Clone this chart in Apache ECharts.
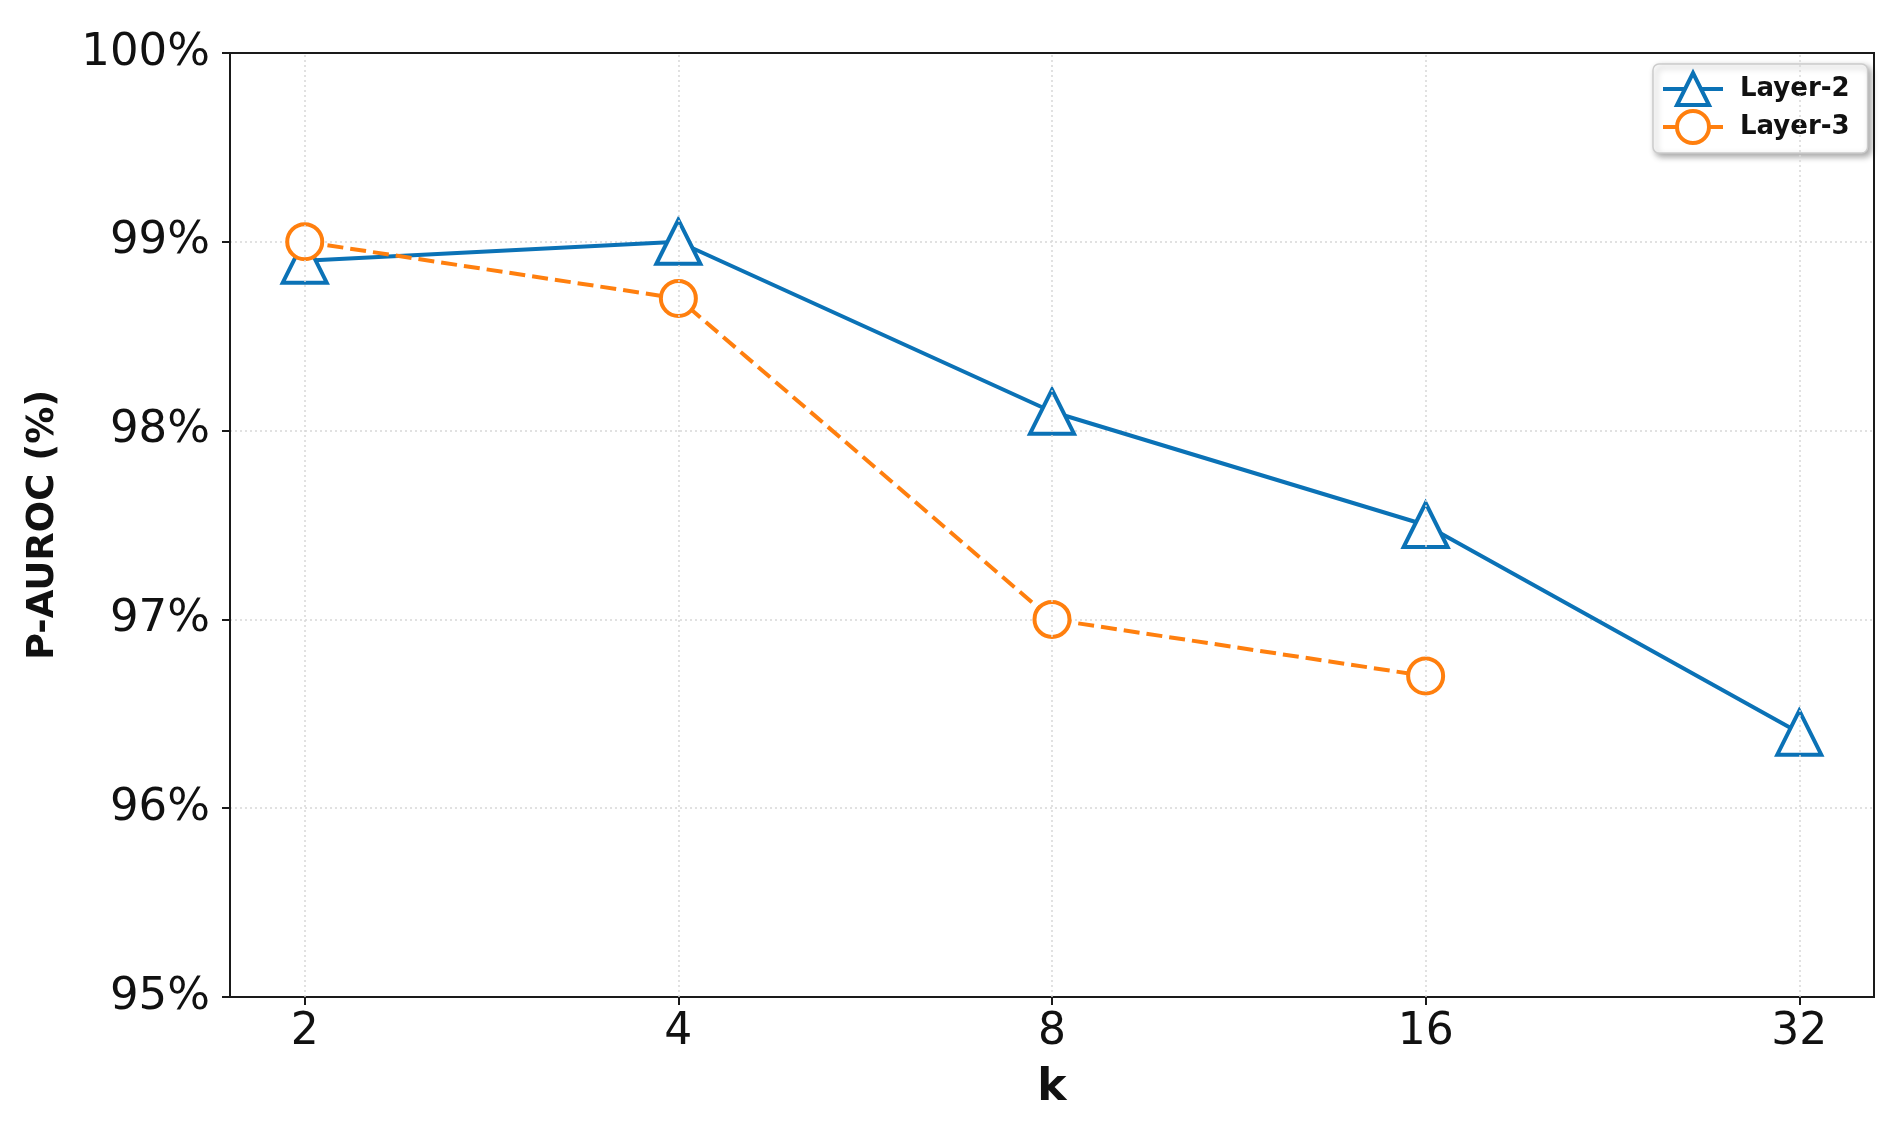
<!DOCTYPE html>
<html>
<head>
<meta charset="utf-8">
<script src="https://cdn.jsdelivr.net/npm/echarts@6/dist/echarts.min.js"></script>
<style>
html,body{margin:0;padding:0;background:#fff;}
#chart{width:1899px;height:1128px;}
</style>
</head>
<body>
<div id="chart"></div>
<script>
const kLabels = ['2', '4', '8', '16', '32'];
const kIndex = [0, 1, 2, 3, 4];
const layer2 = [98.9, 99.0, 98.1, 97.5, 96.4];
const layer3 = [99.0, 98.7, 97.0, 96.7];

const FONT = 'DejaVu Sans';
const BLUE = '#0b72b6';
const ORANGE = '#ff7f0e';
const FRAME = '#1a1a1a';

const chart = echarts.init(document.getElementById('chart'), null, {renderer: 'canvas'});
chart.setOption({
  animation: false,
  backgroundColor: '#fff',
  grid: {left: 230, top: 53, right: 25, bottom: 131, show: true, borderColor: FRAME, borderWidth: 2, backgroundColor: 'transparent', z: 5},
  legend: {
    left: 1653, top: 64,
    orient: 'vertical',
    padding: [7, 18, 8, 8],
    itemWidth: 60, itemHeight: 40, itemGap: 2,
    backgroundColor: '#fff',
    borderColor: '#cccccc', borderWidth: 1.5, borderRadius: 6,
    shadowBlur: 6, shadowOffsetX: 3, shadowOffsetY: 3, shadowColor: 'rgba(0,0,0,0.35)',
    lineStyle: {width: 4},
    itemStyle: {borderWidth: 4},
    textStyle: {fontFamily: FONT, fontWeight: 'bold', fontSize: 26, color: '#111', padding: [0, 0, 0, 12]},
    data: ['Layer-2', 'Layer-3']
  },
  xAxis: {
    type: 'value', min: -0.2, max: 4.2,
    name: 'k', nameLocation: 'middle', nameGap: 70,
    nameTextStyle: {fontFamily: FONT, fontWeight: 'bold', fontSize: 44, color: '#111'},
    axisLine: {show: true, onZero: false, lineStyle: {color: FRAME, width: 2}},
    axisTick: {show: true, inside: false, length: 8, customValues: kIndex, lineStyle: {color: FRAME, width: 2}},
    axisLabel: {customValues: kIndex, margin: 14, fontFamily: FONT, fontSize: 44, color: '#111',
      formatter: v => kLabels[Math.round(v)]},
    splitLine: {show: false}
  },
  yAxis: {
    type: 'value', min: 95, max: 100, interval: 1,
    name: 'P-AUROC (%)', nameLocation: 'middle', nameGap: 168,
    nameTextStyle: {fontFamily: FONT, fontWeight: 'bold', fontSize: 37, color: '#111'},
    axisLine: {show: true, onZero: false, lineStyle: {color: FRAME, width: 2}},
    axisTick: {show: true, inside: false, length: 8, lineStyle: {color: FRAME, width: 2}},
    axisLabel: {margin: 20, fontFamily: FONT, fontSize: 45, color: '#111', formatter: v => v + '%'},
    splitLine: {show: true, showMinLine: false, showMaxLine: false, lineStyle: {color: '#d8d8d8', width: 1.5, type: [2, 3]}}
  },
  series: [
    {
      name: 'grid-x', type: 'line', data: [], silent: true, z: 1,
      markLine: {
        silent: true, symbol: ['none', 'none'], label: {show: false},
        lineStyle: {color: '#d8d8d8', width: 1.5, type: [2, 3]},
        data: kIndex.map(i => ({xAxis: i}))
      }
    },
    {
      name: 'Layer-2', type: 'line', z: 3,
      data: layer2.map((v, i) => [kIndex[i], v]),
      symbol: 'triangle', symbolSize: 44,
      lineStyle: {color: BLUE, width: 4},
      itemStyle: {color: '#fff', borderColor: BLUE, borderWidth: 4},
      emphasis: {disabled: true}
    },
    {
      name: 'Layer-3', type: 'line', z: 4,
      data: layer3.map((v, i) => [kIndex[i], v]),
      symbol: 'circle', symbolSize: 35,
      lineStyle: {color: ORANGE, width: 4, type: [16, 7]},
      itemStyle: {color: '#fff', borderColor: ORANGE, borderWidth: 4},
      emphasis: {disabled: true}
    }
  ]
});
</script>
</body>
</html>
